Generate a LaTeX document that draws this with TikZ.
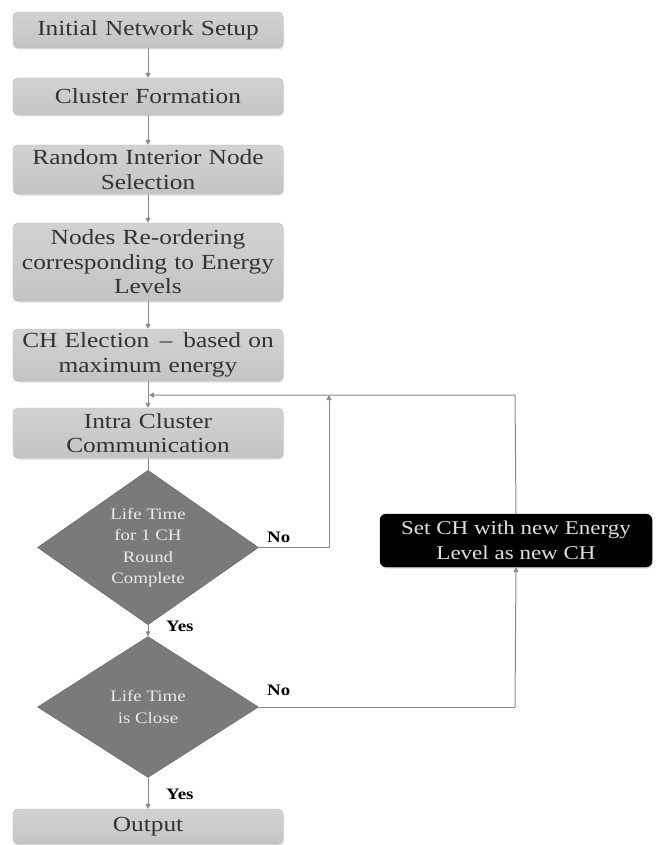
\documentclass[tikz,border=0pt]{standalone}
\usepackage{fontspec}
\setmainfont{Liberation Serif}[FakeStretch=1.18]
\usetikzlibrary{shapes.geometric,arrows.meta,shadows}
\definecolor{boxfill}{HTML}{C4C4C4}
\definecolor{boxtop}{HTML}{D2D2D2}
\definecolor{boxline}{HTML}{B4B4B4}
\definecolor{boxtext}{HTML}{333333}
\definecolor{dfill}{HTML}{7A7A7A}
\definecolor{conn}{HTML}{8A8A8A}
\tikzset{
  procbox/.style={rectangle, rounded corners=5pt, draw=boxline, top color=boxtop, bottom color=boxfill,
    minimum width=270pt, text width=266pt, align=center, inner sep=0pt, text=boxtext,
    font=\fontsize{21.5}{24.5}\selectfont, drop shadow={shadow xshift=1pt, shadow yshift=-1.5pt, opacity=0.25}},
  decbox/.style={diamond, draw=dfill!80!black, fill=dfill, minimum width=221pt, minimum height=141pt,
    inner sep=0pt, align=center, text=white!92!black, font=\fontsize{16}{21.5}\selectfont},
  blackbox/.style={rectangle, rounded corners=6pt, draw=black, fill=black, minimum width=272pt,
    minimum height=53pt, align=center, text=white!88!black, font=\fontsize{19.5}{25}\selectfont,
    drop shadow={shadow xshift=1pt, shadow yshift=-1.5pt, opacity=0.3}},
  lbl/.style={font=\bfseries\fontsize{16}{18}\selectfont, text=black, inner sep=0pt},
  conline/.style={draw=conn, line width=1pt},
  arr/.style={conline, -{Triangle[width=5pt,length=5pt]}}
}
\begin{document}
\begin{tikzpicture}[x=1pt,y=-1pt]
\useasboundingbox (0,0) rectangle (656,845);
\node[procbox, minimum height=36pt] (b1) at (148,30) {Initial Network Setup};
\node[procbox, minimum height=37pt] (b2) at (148,96.5) {Cluster Formation};
\node[procbox, minimum height=49pt] (b3) at (148,169.5) {Random Interior Node\\Selection};
\node[procbox, minimum height=78pt] (b4) at (148,262) {Nodes Re-ordering\\corresponding to Energy\\Levels};
\node[procbox, minimum height=52pt] (b5) at (148,355) {CH Election \,--\, based on\\maximum energy};
\node[procbox, minimum height=50pt] (b6) at (148,433) {Intra Cluster\\Communication};
\node[decbox] (d1) at (148,547.5) {Life Time\\for 1 CH\\Round\\Complete};
\node[decbox] (d2) at (148,707) {Life Time\\is Close};
\node[procbox, minimum height=35pt] (out) at (148,826.5) {Output};
\node[blackbox] (bk) at (516,540.5) {Set CH with new Energy\\Level as new CH};
\node[lbl, anchor=west] (no1) at (267,537) {No};
\node[lbl, anchor=west] (yes1) at (166,626) {Yes};
\node[lbl, anchor=west] (no2) at (267,690) {No};
\node[lbl, anchor=west] (yes2) at (166,794) {Yes};
\coordinate (j1) at (329,547.5);
\coordinate (j2) at (329,395);
\coordinate (m) at (149,395);
\coordinate (k1) at (515,707);
\coordinate (k2) at (515,395);
\draw[arr] (b1.south) -- (b2.north);
\draw[arr] (b2.south) -- (b3.north);
\draw[arr] (b3.south) -- (b4.north);
\draw[arr] (b4.south) -- (b5.north);
\draw[arr] (b5.south) -- (b6.north);
\draw[conline] (b6.south) -- (d1.north);
\draw[arr] (d1.south) -- (d2.north);
\draw[arr] (d2.south) -- (out.north);
\draw[conline] (d1.east) -- (j1);
\draw[arr] (j1) -- (j2);
\draw[conline] (d2.east) -- (k1);
\draw[arr] (k1) -- (bk.south);
\draw[arr] (bk.north) -- (k2) -- (m);
\end{tikzpicture}
\end{document}
